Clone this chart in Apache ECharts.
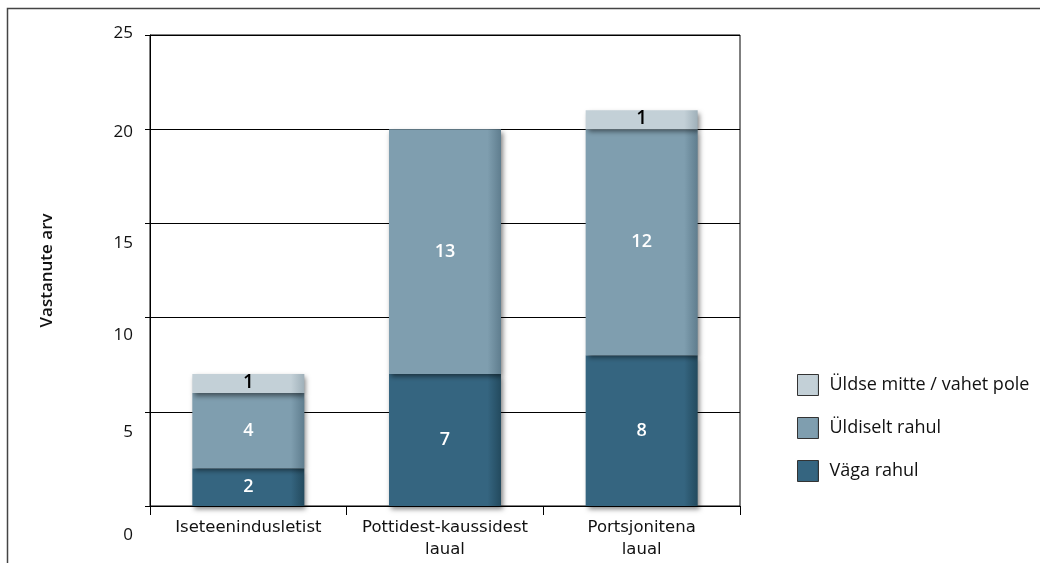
<!DOCTYPE html>
<html>
<head>
<meta charset="utf-8">
<script src="https://cdn.jsdelivr.net/npm/echarts@6/dist/echarts.min.js"></script>
<style>
  html, body { margin: 0; padding: 0; background: #fff; }
  #chart { width: 1040px; height: 563px; }
</style>
</head>
<body>
<div id="chart"></div>
<script>
const categories = ['Iseteenindusletist', 'Pottidest-kaussidest\nlaual', 'Portsjonitena\nlaual'];
const vagaRahul = [2, 7, 8];
const uldiseltRahul = [4, 13, 12];
const uldseMitte = [1, null, 1];
const yTicks = [0, 5, 10, 15, 20, 25];

const chart = echarts.init(document.getElementById('chart'), null, {renderer: 'canvas'});

// bar fill with a darker right edge, like the original bevel look
const barFill = (base, edge) => new echarts.graphic.LinearGradient(0, 0, 1, 0, [
  {offset: 0, color: base},
  {offset: 0.88, color: base},
  {offset: 1, color: edge}
]);

const barShadow = {
  shadowColor: 'rgba(0,0,0,0.5)',
  shadowBlur: 5,
  shadowOffsetX: 2,
  shadowOffsetY: 3
};

// y labels in the source sit a bit below their grid lines
const labelShift = {0: 29, 5: 20, 10: 18, 15: 20, 20: 3, 25: -2};
const yRich = {};
yTicks.forEach((v) => {
  const d = labelShift[v];
  yRich['v' + v] = {
    fontSize: 17,
    color: '#111',
    fontFamily: 'Open Sans',
    padding: d >= 0 ? [2 * d, 0, 0, 0] : [0, 0, -2 * d, 0]
  };
});

const option = {
  backgroundColor: '#fff',
  animation: false,
  graphic: [{
    type: 'rect',
    shape: {x: 7.5, y: 8.5, width: 1100, height: 600},
    style: {fill: 'none', stroke: '#444', lineWidth: 1.5},
    silent: true
  }],
  grid: {
    left: 150,
    right: 300,
    top: 35,
    bottom: 57,
    show: true,
    borderColor: '#000',
    borderWidth: 1,
    backgroundColor: 'transparent'
  },
  legend: {
    orient: 'vertical',
    left: 792,
    top: 369,
    itemWidth: 21,
    itemHeight: 21,
    itemGap: 21,
    icon: 'rect',
    data: ['Üldse mitte / vahet pole', 'Üldiselt rahul', 'Väga rahul'],
    itemStyle: {borderColor: '#333', borderWidth: 1, shadowBlur: 0, shadowOffsetX: 0, shadowOffsetY: 0},
    textStyle: {fontSize: 18, color: '#111', fontFamily: 'Open Sans', padding: [3, 0, 0, 6]}
  },
  xAxis: {
    type: 'category',
    data: categories,
    axisLine: {lineStyle: {color: '#000', width: 1}},
    axisTick: {show: true, length: 9, lineStyle: {color: '#000'}},
    axisLabel: {
      interval: 0,
      hideOverlap: false,
      fontSize: 16.5,
      color: '#111',
      fontFamily: '"DejaVu Sans"',
      margin: 11,
      lineHeight: 22
    }
  },
  yAxis: {
    type: 'value',
    min: 0,
    max: 25,
    interval: 5,
    name: 'Vastanute arv',
    nameLocation: 'middle',
    nameGap: 94,
    nameTextStyle: {fontSize: 17, color: '#111', fontFamily: 'Open Sans', fontWeight: 600},
    axisLine: {show: true, lineStyle: {color: '#000', width: 1}},
    axisTick: {show: true, length: 5, lineStyle: {color: '#000'}},
    splitLine: {show: true, lineStyle: {color: '#000', width: 1}},
    axisLabel: {
      margin: 17,
      formatter: (v) => '{v' + v + '|' + v + '}',
      rich: yRich
    }
  },
  series: [
    {
      name: 'Väga rahul',
      type: 'bar',
      stack: 'total',
      barWidth: 112,
      data: vagaRahul,
      itemStyle: Object.assign({color: barFill('#356580', '#234a5e')}, barShadow),
      label: {show: true, position: 'inside', color: '#fff', fontSize: 18, fontWeight: 600, fontFamily: 'Open Sans'}
    },
    {
      name: 'Üldiselt rahul',
      type: 'bar',
      stack: 'total',
      barWidth: 112,
      data: uldiseltRahul,
      itemStyle: Object.assign({color: barFill('#7f9eaf', '#5f7d8e')}, barShadow),
      label: {show: true, position: 'inside', color: '#fff', fontSize: 18, fontWeight: 600, fontFamily: 'Open Sans'}
    },
    {
      name: 'Üldse mitte / vahet pole',
      type: 'bar',
      stack: 'total',
      barWidth: 112,
      data: uldseMitte,
      itemStyle: Object.assign({color: barFill('#c3d0d7', '#9fb0b9')}, barShadow),
      label: {show: true, position: 'inside', color: '#000', fontSize: 19, fontWeight: 600, fontFamily: 'Open Sans', offset: [0, -1]}
    }
  ]
};

chart.setOption(option);
</script>
</body>
</html>
